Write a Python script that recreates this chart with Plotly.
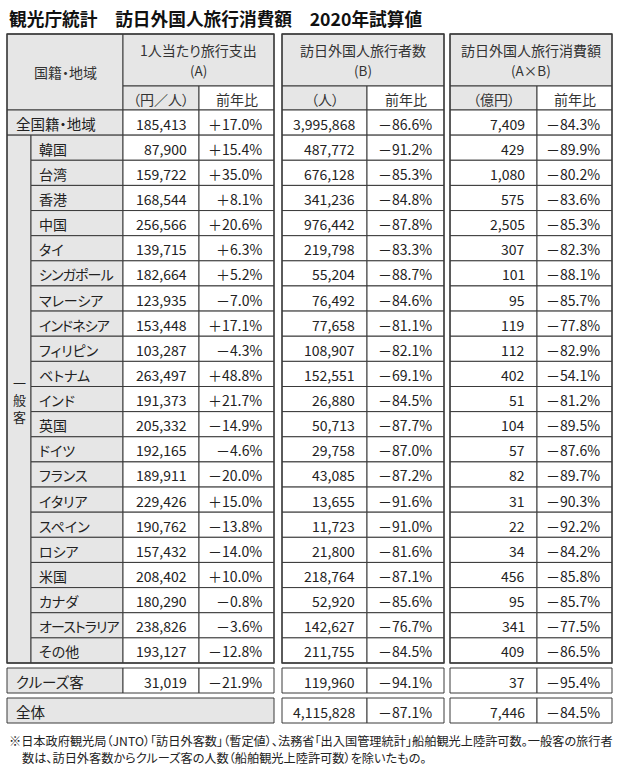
import plotly.graph_objects as go

# 観光庁統計 訪日外国人旅行消費額 2020年試算値
title = "観光庁統計　訪日外国人旅行消費額　2020年試算値"

countries = ["韓国", "台湾", "香港", "中国", "タイ", "シンガポール", "マレーシア",
             "インドネシア", "フィリピン", "ベトナム", "インド", "英国", "ドイツ",
             "フランス", "イタリア", "スペイン", "ロシア", "米国", "カナダ",
             "オーストラリア", "その他"]
per_capita = [87900, 159722, 168544, 256566, 139715, 182664, 123935, 153448, 103287,
              263497, 191373, 205332, 192165, 189911, 229426, 190762, 157432, 208402,
              180290, 238826, 193127]
per_capita_yoy = [15.4, 35.0, 8.1, 20.6, 6.3, 5.2, -7.0, 17.1, -4.3, 48.8, 21.7, -14.9,
                  -4.6, -20.0, 15.0, -13.8, -14.0, 10.0, -0.8, -3.6, -12.8]
visitors = [487772, 676128, 341236, 976442, 219798, 55204, 76492, 77658, 108907, 152551,
            26880, 50713, 29758, 43085, 13655, 11723, 21800, 218764, 52920, 142627, 211755]
visitors_yoy = [-91.2, -85.3, -84.8, -87.8, -83.3, -88.7, -84.6, -81.1, -82.1, -69.1,
                -84.5, -87.7, -87.0, -87.2, -91.6, -91.0, -81.6, -87.1, -85.6, -76.7, -84.5]
spending = [429, 1080, 575, 2505, 307, 101, 95, 119, 112, 402, 51, 104, 57, 82, 31, 22,
            34, 456, 95, 341, 409]
spending_yoy = [-89.9, -80.2, -83.6, -85.3, -82.3, -88.1, -85.7, -77.8, -82.9, -54.1,
                -81.2, -89.5, -87.6, -89.7, -90.3, -92.2, -84.2, -85.8, -85.7, -77.5, -86.5]

# 全国籍・地域 / クルーズ客 / 全体
all_row = [185413, 17.0, 3995868, -86.6, 7409, -84.3]
cruise_row = [31019, -21.9, 119960, -94.1, 37, -95.4]
total_row = [None, None, 4115828, -87.1, 7446, -84.5]

group_label = "一般客"
headers = ["1人当たり旅行支出", "訪日外国人旅行者数", "訪日外国人旅行消費額"]
header_sub = ["(A)", "(B)", "(A×B)"]
units = ["（円／人）", "（人）", "（億円）"]
note1 = "※日本政府観光局（JNTO）「訪日外客数」（暫定値）、法務省「出入国管理統計」船舶観光上陸許可数。一般客の旅行者"
note2 = "数は、訪日外客数からクルーズ客の人数（船舶観光上陸許可数）を除いたもの。"

FONT = "Noto Sans CJK JP"
GRAY = "#e6e6e6"
LINE = "#3a3a3a"
TXT = "#222222"

W, H = 625, 766
# column edges (px)
X0, XIND, XNAME = 7, 31, 123
BLOCKS = [(123, 199, 274), (282, 367, 444), (450, 537, 612)]
HEAD_TOP, HEAD_MID, HEAD_BOT = 34, 86, 110
MAIN_BOT = 663
ROW_H = (MAIN_BOT - HEAD_BOT) / (len(countries) + 1)
CRUISE = (668, 693)
TOTAL = (698, 723)

shapes = []
ann = []


def cell(x0, x1, y0, y1, fill="white"):
    shapes.append(dict(type="rect", xref="x", yref="y", x0=x0, x1=x1, y0=y0, y1=y1,
                       fillcolor=fill, line=dict(color=LINE, width=1), layer="below"))


def text(x, y, s, anchor="center", size=14, color=TXT, bold=False, palt=True, squeeze=0):
    if bold:
        s = "<b>" + s + "</b>"
    if palt:
        style = "font-feature-settings:'palt'"
        if squeeze:
            style += f";letter-spacing:{-squeeze}px"
        s = f"<span style=\"{style}\">" + s + "</span>"
    ann.append(dict(x=x, y=y, xref="x", yref="y", text=s, showarrow=False,
                    xanchor=anchor, yanchor="middle",
                    font=dict(family=FONT, size=size, color=color)))


def fmt_num(v):
    return "" if v is None else f"{v:,}"


def fmt_pct(v):
    if v is None:
        return ""
    sign = "＋" if v >= 0 else "－"
    return f"{sign}{abs(v):.1f}%"


def data_cells(vals, y0, y1, skip_empty=False):
    ym = (y0 + y1) / 2 + 1
    for b, (bx0, bdiv, bx1) in enumerate(BLOCKS):
        v, p = vals[2 * b], vals[2 * b + 1]
        if v is None and skip_empty:
            continue
        cell(bx0, bdiv, y0, y1)
        cell(bdiv, bx1, y0, y1)
        text(bdiv - 10, ym, fmt_num(v), "right", palt=False)
        text(bx1 - 10, ym, fmt_pct(p), "right", palt=False)


# title
text(X0, 18, title, "left", size=17.7, color="#111111", bold=True)

# header
cell(X0, XNAME, HEAD_TOP, HEAD_BOT, GRAY)
text((X0 + XNAME) / 2, (HEAD_TOP + HEAD_BOT) / 2, "国籍・地域", size=14, color="#333333")
for b, (bx0, bdiv, bx1) in enumerate(BLOCKS):
    cell(bx0, bx1, HEAD_TOP, HEAD_MID, GRAY)
    cell(bx0, bdiv, HEAD_MID, HEAD_BOT, GRAY)
    cell(bdiv, bx1, HEAD_MID, HEAD_BOT)
    text((bx0 + bx1) / 2, 50, headers[b], size=14, color="#333333")
    text((bx0 + bx1) / 2, 69.5, header_sub[b], size=13.5, color="#333333")
    text((bx0 + bdiv) / 2, 99, units[b], size=14, color="#333333")
    text((bdiv + bx1) / 2, 99, "前年比", size=14, color="#333333")

# 全国籍・地域
y0, y1 = HEAD_BOT, HEAD_BOT + ROW_H
cell(X0, XNAME, y0, y1, GRAY)
text(X0 + 7, (y0 + y1) / 2 + 1, "全国籍・地域", "left", size=14.5)
data_cells(all_row, y0, y1)

# 一般客 rows
g0 = HEAD_BOT + ROW_H
cell(X0, XIND, g0, MAIN_BOT, GRAY)
text((X0 + XIND) / 2 + 0.5, (g0 + MAIN_BOT) / 2, "<br>".join(group_label), size=13, palt=False)
for i, name in enumerate(countries):
    y0 = g0 + i * ROW_H
    y1 = y0 + ROW_H
    cell(XIND, XNAME, y0, y1, GRAY)
    text(XIND + 6, (y0 + y1) / 2 + 1, name, "left", size=14,
         squeeze=0.9 if len(name) >= 6 else 0)
    data_cells([per_capita[i], per_capita_yoy[i], visitors[i], visitors_yoy[i],
                spending[i], spending_yoy[i]], y0, y1)

# outer border of main table blocks
for bx0, bx1 in [(X0, BLOCKS[0][2]), (BLOCKS[1][0], BLOCKS[1][2]), (BLOCKS[2][0], BLOCKS[2][2])]:
    shapes.append(dict(type="rect", xref="x", yref="y", x0=bx0, x1=bx1, y0=HEAD_TOP, y1=MAIN_BOT,
                       line=dict(color=LINE, width=1.3), fillcolor="rgba(0,0,0,0)"))

# クルーズ客
y0, y1 = CRUISE
cell(X0, XNAME, y0, y1, GRAY)
text(X0 + 7, (y0 + y1) / 2 + 1, "クルーズ客", "left", size=14.5)
data_cells(cruise_row, y0, y1)

# 全体
y0, y1 = TOTAL
cell(X0, BLOCKS[0][2], y0, y1, GRAY)
text(X0 + 7, (y0 + y1) / 2 + 1, "全体", "left", size=14.5)
data_cells(total_row, y0, y1, skip_empty=True)

# note
text(X0, 741, note1, "left", size=12.2)
text(X0 + 13, 757.5, note2, "left", size=12.2)

fig = go.Figure()
fig.update_layout(
    width=W, height=H,
    margin=dict(l=0, r=0, t=0, b=0),
    paper_bgcolor="white", plot_bgcolor="white",
    xaxis=dict(range=[0, W], visible=False, fixedrange=True),
    yaxis=dict(range=[H, 0], visible=False, fixedrange=True),
    shapes=shapes, annotations=ann, showlegend=False,
)
# the page body has a default 8px margin; drop it so the figure sits at the corner
fig.write_html("out.html", config={"displayModeBar": False},
               post_script="document.body.style.margin='0';")
